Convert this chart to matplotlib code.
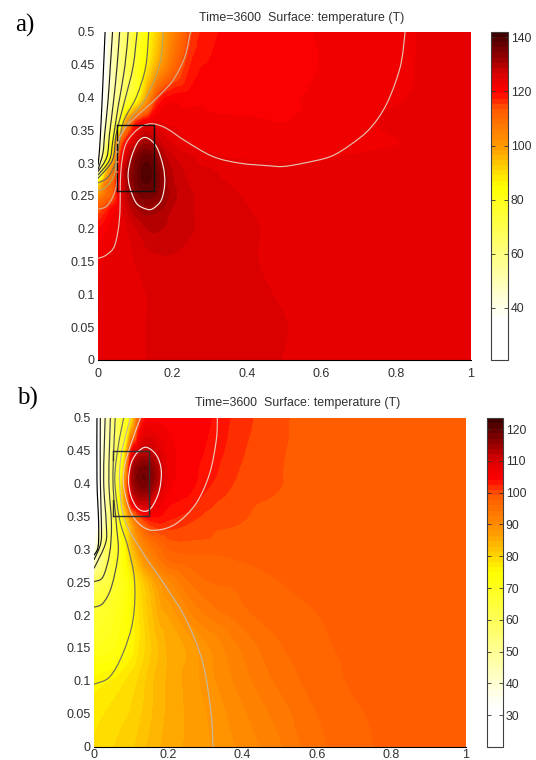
import numpy as np
import matplotlib
matplotlib.use("Agg")
import matplotlib.pyplot as plt
import matplotlib.tri as mtri
from matplotlib.colors import LinearSegmentedColormap
from matplotlib.path import Path
from matplotlib.patches import PathPatch

plt.rcParams['font.family'] = ['Liberation Sans', 'DejaVu Sans']

TITLE = "Time=3600  Surface: temperature (T)"
X_TICKS = [0, 0.2, 0.4, 0.6, 0.8, 1]
X_LABELS = ["0", "0.2", "0.4", "0.6", "0.8", "1"]
Y_TICKS = [0, 0.05, 0.1, 0.15, 0.2, 0.25, 0.3, 0.35, 0.4, 0.45, 0.5]
Y_LABELS = ["0", "0.05", "0.1", "0.15", "0.2", "0.25", "0.3", "0.35", "0.4", "0.45", "0.5"]

X_NODES = [0, .02, .04, .06, .08, .1, .12, .14, .16, .18, .2, .25, .3, .4, .5, .6, .8, 1]

# ---------- panel a ----------
A_Y = [0, .05, .1, .15, .2, .23, .25, .27, .29, .31, .33, .36, .4, .45, .5]
A_T = [
 [123,123.3,123.6,123.9,124.2,124.5,124.8,125.1,125.3,125.4,125.5,125.6,125.5,125.3,124.9,124.3,124,124],
 [123,123.3,123.6,123.9,124.2,124.5,124.8,125.1,125.3,125.4,125.5,125.6,125.5,125.3,125,124.3,124,124],
 [123,123.3,123.6,123.9,124.2,124.5,124.8,125.1,125.3,125.4,125.5,125.6,125.5,125.2,124.8,124.2,124,124],
 [122.5,123.2,123.7,124,124.5,125,125.5,126,126.3,126.5,126.5,126,125.6,125.1,124.6,124.1,124,124],
 [119,120.5,122,123.3,125,126.5,128,129,129,128.5,128,127,126.2,125.2,124.5,124.1,124,124],
 [113,116,120,123,127,130,131.5,131.5,131,130,128.5,127,126,125,124.3,124,124,124],
 [103,109,113,123.5,129,133,135,135,134,131.5,129.5,127,126,124.8,124.1,123.8,123.9,124],
 [85,104,111,123,131,135,138,138,135.5,131.5,129,126.5,125.5,124.4,123.8,123.6,123.8,124],
 [45,88,106,122,131.5,135,138.5,138.5,135,131,128.5,126,125,123.9,123.4,123.4,123.8,124],
 [33,70,92,117,127,133,136.5,136.5,133,129,127,125,123.4,122.8,122.7,122.9,123.6,124],
 [30,58,84,110,122,127,131.5,131.5,128.5,126,125,123,122.5,122.3,122.2,122.3,123,123.9],
 [28,46,62,80,104,117,122,123.2,123.4,123,122.8,122,121.7,121.4,121.2,121.8,123.4,124],
 [24,38,52,62,72,80,92,104,115,119,120,120.3,120.5,120.8,121,121.4,122.9,123.8],
 [22,36,50,60,68,76,83,90,97,103,109,117.5,119.5,120.3,120.8,121.2,122.8,123.6],
 [22,34,48,58,66,74,80,86,92,98,104,115,118.5,120,120.6,121.3,122.8,123.5],
]
A_RANGE = (20.7, 142.0)
A_CB_TICKS = [40, 60, 80, 100, 120, 140]
A_LINES = [
 ("#000000", [(.019,.5),(.015,.447),(.009,.371),(.004,.32),(0,.297)]),
 ("#1c1c1c", [(.039,.5),(.033,.447),(.027,.396),(.018,.345),(.013,.315),(0,.29)]),
 ("#2c2c2c", [(.058,.5),(.051,.447),(.042,.396),(.031,.345),(.024,.31),(0,.287)]),
 ("#3c3c3c", [(.081,.5),(.072,.447),(.054,.386),(.04,.335),(.031,.305),(0,.282)]),
 ("#505050", [(.105,.5),(.094,.447),(.072,.396),(.049,.345),(.039,.305),(0,.277)]),
 ("#6e6e50", [(.136,.5),(.128,.447),(.103,.401),(.067,.361),(.049,.305),(.027,.279),(0,.27)]),
 ("#b8a860", [(.175,.5),(.166,.452),(.13,.401),(.081,.363),(.054,.33),(.045,.285),(.022,.264),(0,.258)]),
 ("#d8b090", [(.248,.5),(.233,.462),(.202,.427),(.157,.399),(.112,.376),(.072,.353),(.051,.325),(.051,.274),(.04,.249),(.022,.234),(0,.23)]),
 ("#e6c0b0", [(0,.155),(.022,.16),(.045,.175),(.058,.218),(.061,.285),(.072,.325),(.094,.345),(.121,.357),(.148,.36),(.184,.353),(.237,.333),(.309,.31),(.381,.3),(.461,.296),(.497,.295),(.551,.3),(.623,.31),(.677,.328),(.73,.353),(.775,.391),(.811,.447),(.824,.5)]),
 ("#f4e8e0", [(.13,.339),(.157,.325),(.175,.295),(.179,.269),(.17,.244),(.148,.231),(.13,.23),(.103,.239),(.085,.264),(.081,.285),(.09,.31),(.108,.333),(.13,.339)]),
]
A_BOX = (.05, .15, .257, .358)
A_BOX_LEFT = [(.257, .285), (.29, .30), (.305, .315), (.32, .33), (.335, .358)]

# ---------- panel b ----------
B_Y = [0, .05, .1, .15, .21, .25, .28, .31, .34, .37, .4, .42, .45, .5]
B_T = [
 [78.5,79,79.5,80,80.5,81,82,83,84,84.7,85.3,86.5,87.5,90,92.5,95.5,98,98.4],
 [77.5,78,78.5,79,79.5,80,81,82,83.2,84.2,85,86.5,87.8,90.8,93.5,96,98.1,98.4],
 [75.5,76,76.5,77,78,79,80,81.5,83,84,85,86.7,88.5,92,94.8,96.8,98.2,98.4],
 [70,70.5,71,72,73.5,75.5,78,80,82,83.5,85,86.5,89,93,95.8,97.2,98.3,98.4],
 [66,67,68,70,72,75,78,81,83.5,86,87,91,93.5,95.8,96.9,97.7,98.4,98.4],
 [58,62,64,68,71,75,79,82.5,85.5,88.3,90.5,94,95.8,96.5,97.6,98.1,98.4,98.4],
 [42,54,62,68,73,79,84,88.5,91.5,94,95.5,96.5,96.8,97.6,98.2,98.4,98.4,98.4],
 [30,50,60,67,74,83,89,93,95.5,97,98.5,99,99,98.7,98.4,98.4,98.4,98.4],
 [23,40,54,66,76,86,95,100,102,102.5,102,101,99.9,99.2,98.7,98.4,98.4,98.4],
 [22,38,52,66,82,104,110,111,108,106,104.5,103.5,101.5,99.6,99,98.5,98.4,98.4],
 [22,38,52,64,85,111,117,118,115,110.5,106.5,105,103,100.3,99.3,98.6,98.4,98.4],
 [22,38,52,62,80,111,117,118,115.5,111,107,105,103.5,100.6,99.3,98.7,98.4,98.4],
 [22,37,49,60,72,102,110,112,111,108.5,106.5,105,104,101,99.4,98.8,98.4,98.4],
 [22,37,47,59,66,77,97,104,105,105,105,105,104.5,101.5,99.5,98.9,98.4,98.4],
]
B_RANGE = (20.0, 123.5)
B_CB_TICKS = [30, 40, 50, 60, 70, 80, 90, 100, 110, 120]
B_LINES = [
 ("#000000", [(.008,.5),(.008,.405),(.0125,.339),(.011,.304),(0,.291)]),
 ("#1c1c1c", [(.017,.5),(.017,.405),(.02,.339),(.018,.309),(0,.284)]),
 ("#303030", [(.03,.5),(.026,.405),(.033,.339),(.031,.309),(0,.271)]),
 ("#404040", [(.044,.5),(.04,.405),(.047,.339),(.042,.294),(.024,.258),(0,.251)]),
 ("#505050", [(.057,.5),(.051,.405),(.06,.339),(.065,.294),(.047,.243),(.024,.218),(0,.212)]),
 ("#707060", [(.08,.5),(.065,.456),(.056,.405),(.069,.345),(.091,.304),(.109,.253),(.105,.193),(.078,.142),(.042,.106),(0,.095)]),
 ("#c8b8a0", [(.098,.5),(.074,.446),(.069,.4),(.082,.345),(.132,.294),(.194,.243),(.248,.193),(.293,.127),(.315,.051),(.32,0)]),
 ("#eac8b8", [(.125,.5),(.1,.461),(.082,.426),(.08,.395),(.1,.355),(.132,.334),(.168,.329),(.221,.339),(.275,.37),(.311,.415),(.329,.466),(.332,.5)]),
 ("#f4e4e0", [(.141,.455),(.168,.443),(.181,.42),(.176,.39),(.159,.367),(.141,.358),(.118,.362),(.1,.38),(.093,.405),(.1,.431),(.118,.448),(.141,.455)]),
]
B_BOX = (.05, .148, .35, .45)
B_BOX_LEFT = [(.35, .375), (.435, .45)]

CMAP = LinearSegmentedColormap.from_list("heat", [
    (0.00, "#ffffff"), (0.12, "#ffffff"), (0.18, "#ffffd8"), (0.32, "#ffff80"),
    (0.53, "#ffff00"), (0.65, "#ff9c00"), (0.77, "#ff5800"), (0.82, "#ff0000"),
    (0.855, "#e80000"), (0.885, "#d00000"), (0.92, "#a00000"), (1.00, "#400000")], N=64)

W, H = 536, 760
fig = plt.figure(figsize=(W / 100, H / 100), dpi=100, facecolor="white")
TXT = "#303030"


def box_px(l, t, r, b):
    return [l / W, 1 - b / H, (r - l) / W, (b - t) / H]


def smooth(ax, pts, color):
    p = np.array(pts, float)
    closed = np.allclose(p[0], p[-1])
    verts, codes = [tuple(p[0])], [Path.MOVETO]
    n = len(p)
    for i in range(n - 1):
        if closed:
            p0, p3 = p[(i - 1) % (n - 1)], p[(i + 2) % (n - 1)]
        else:
            p0, p3 = p[max(i - 1, 0)], p[min(i + 2, n - 1)]
        p1, p2 = p[i], p[i + 1]
        verts += [tuple(p1 + (p2 - p0) / 6), tuple(p2 - (p3 - p1) / 6), tuple(p2)]
        codes += [Path.CURVE4] * 3
    ax.add_patch(PathPatch(Path(verts, codes), fc="none", ec=color, lw=0.85, zorder=3))


def panel(rect, cbrect, ys, temps, vr, cbticks, lines, bx, left, boxc, title_xy, xpad):
    ax = fig.add_axes(box_px(*rect))
    levels = np.linspace(vr[0], vr[1], 65)
    gx, gy = np.meshgrid(X_NODES, ys)
    tri = mtri.Triangulation(gx.ravel(), gy.ravel())
    z = np.array(temps, float).ravel()
    interp = mtri.CubicTriInterpolator(tri, z, kind="geom")
    rt, rz = mtri.UniformTriRefiner(tri).refine_field(z, triinterpolator=interp, subdiv=3)
    cs = ax.tricontourf(rt, np.clip(rz, vr[0], vr[1]), levels=levels, cmap=CMAP)
    for c, pts in lines:
        smooth(ax, pts, c)
    x0, x1, y0, y1 = bx
    ax.plot([x0, x1, x1, x0], [y1, y1, y0, y0], color=boxc, lw=1.0, zorder=4)
    for a, b in left:
        ax.plot([x0, x0], [a, b], color=boxc, lw=1.0, zorder=4)
    ax.set_xlim(0, 1)
    ax.set_ylim(0, 0.5)
    ax.set_xticks(X_TICKS, X_LABELS)
    ax.set_yticks(Y_TICKS, Y_LABELS)
    ax.tick_params(direction="in", length=0, labelsize=9, colors=TXT, pad=2.5)
    ax.tick_params(axis="x", pad=xpad)
    for s in ("top", "right", "left"):
        ax.spines[s].set_visible(False)
    ax.spines["bottom"].set_linewidth(0.8)
    fig.text(title_xy[0] / W, 1 - title_xy[1] / H, TITLE, fontsize=8.9, color=TXT,
             ha="center", va="center")
    cax = fig.add_axes(box_px(*cbrect))
    cb = fig.colorbar(cs, cax=cax, ticks=cbticks)
    cax.tick_params(direction="in", length=3, width=0.6, labelsize=8.8, colors=TXT,
                    left=True, right=True, pad=2)
    cb.outline.set_linewidth(0.8)
    cb.outline.set_edgecolor("#404040")
    cb.minorticks_off()


panel((98, 32, 470.7, 360), (491, 32, 508, 360), A_Y, A_T, A_RANGE, A_CB_TICKS,
      A_LINES, A_BOX, A_BOX_LEFT, "#101010", (301.7, 18), 6)
panel((94, 417.7, 465.7, 746.7), (486.7, 418, 503, 747), B_Y, B_T, B_RANGE, B_CB_TICKS,
      B_LINES, B_BOX, B_BOX_LEFT, "#303030", (297.5, 403), 1.5)

fig.text(15 / W, 1 - 32 / H, "a)", family="Liberation Serif", fontsize=18, color="#000000")
fig.text(17 / W, 1 - 405 / H, "b)", family="Liberation Serif", fontsize=18, color="#000000")

fig.savefig("out.png", dpi=100)
